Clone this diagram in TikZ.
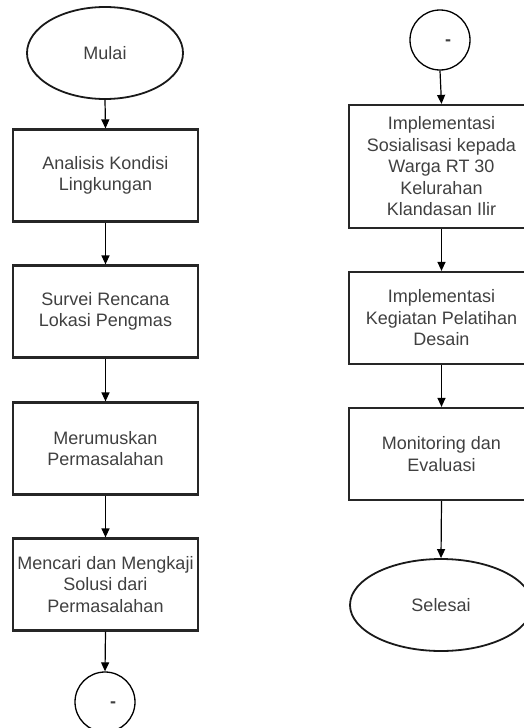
\documentclass[tikz,border=0pt]{standalone}
\usepackage{fontspec}
\setmainfont{Liberation Sans}
\usetikzlibrary{arrows.meta,shapes.geometric}
\begin{document}
\begin{tikzpicture}[x=1pt,y=-1pt,
  txt/.style={font=\fontsize{18}{21.5}\selectfont, text=black!75, align=center, inner sep=0pt},
  proc/.style={txt, draw=black!85, line width=2.2pt, minimum width=185pt, minimum height=92pt},
  term/.style={txt, ellipse, draw=black!90, line width=1.8pt, minimum width=156pt, minimum height=92pt},
  conn/.style={circle, draw=black, line width=1.3pt, minimum size=60pt, inner sep=0pt},
  arr/.style={-{Triangle[width=8pt,length=9pt]}, line width=1.2pt, draw=black}]
\useasboundingbox (0,0) rectangle (524,728);
\clip (0,0) rectangle (524,728);
% left column
\node[term] (mulai) at (105,53) {Mulai};
\node[proc] (b1) at (105.5,175.5) {Analisis Kondisi\\Lingkungan};
\node[proc] (b2) at (105.5,311.5) {Survei Rencana\\Lokasi Pengmas};
\node[proc] (b3) at (105.5,448.5) {Merumuskan\\Permasalahan};
\node[proc] (b4) at (105.5,584.5) {Mencari dan Mengkaji\\Solusi dari\\Permasalahan};
\node[conn, label={[txt, xshift=8pt, yshift=-3pt]center:\textbf{-}}] (c1) at (105,702) {};
% right column
\node[conn, label={[txt, xshift=8pt, yshift=-3pt]center:\textbf{-}}] (c2) at (440,40) {};
\node[proc, minimum height=123pt] (b5) at (441.5,166.5) {Implementasi\\Sosialisasi kepada\\Warga RT 30\\Kelurahan\\Klandasan Ilir};
\node[proc] (b6) at (441.5,318) {Implementasi\\Kegiatan Pelatihan\\Desain};
\node[proc] (b7) at (441.5,454) {Monitoring dan\\Evaluasi};
\node[term, minimum width=182pt] (selesai) at (441,605) {Selesai};
% arrows
\draw[arr] (mulai.south) -- (b1.north);
\draw[arr] (b1.south) -- (b2.north);
\draw[arr] (b2.south) -- (b3.north);
\draw[arr] (b3.south) -- (b4.north);
\draw[arr] (b4.south) -- (c1.north);
\draw[arr] (c2.south) -- (b5.north);
\draw[arr] (b5.south) -- (b6.north);
\draw[arr] (b6.south) -- (b7.north);
\draw[arr] (b7.south) -- (selesai.north);
\end{tikzpicture}
\end{document}
